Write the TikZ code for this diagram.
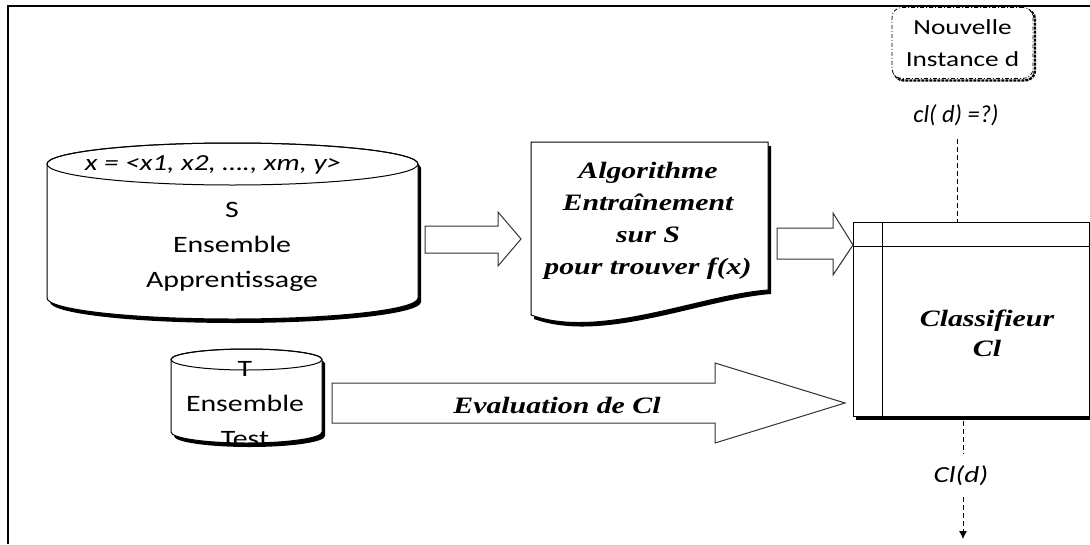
\documentclass[tikz,border=0pt]{standalone}
\usepackage{fontspec}
\setmainfont{Liberation Serif}[FakeStretch=1.27]
\newfontfamily\calfont{Carlito}[FakeStretch=1.27]
\newfontfamily\calplain{Carlito}
\usetikzlibrary{arrows.meta}

\tikzset{
  outline/.style={draw=black, line width=1pt, fill=white},
  blockarrow/.style={draw=black!80, line width=1pt, fill=white},
  sans/.style={font=\calfont\fontsize{23.5}{35}\selectfont, align=center, inner sep=0pt},
  sansit/.style={font=\calfont\itshape\fontsize{23}{28}\selectfont, inner sep=0pt},
  serifbi/.style={font=\bfseries\itshape\fontsize{23.5}{32}\selectfont, align=center, inner sep=0pt},
  link/.style={draw=black, line width=0.8pt, dash pattern=on 5pt off 3pt},
}

\begin{document}
\begin{tikzpicture}[x=1pt, y=-1pt]
\useasboundingbox (0,0) rectangle (1090,544);

% outer frame
\draw[line width=2pt] (8,544) -- (8,6) -- (1090,6);

% training set S (cylinder with drop shadow)
\begin{scope}[shift={(3,4)}]
  \fill (47,164) -- (47,298) arc (180:0:185.5 and 21) -- (418,164) arc (0:-180:185.5 and 21) -- cycle;
\end{scope}
\draw[outline] (47,164) -- (47,298) arc (180:0:185.5 and 21) -- (418,164) arc (0:-180:185.5 and 21) -- cycle;
\draw[line width=1pt] (232.5,164) ellipse (185.5 and 21);
\node[sansit] (xvec) at (213,165) {x = <x1, x2, …., xm, y>};
\node[sans] (setS) at (232,247) {S\\Ensemble\\Apprentissage};

% test set T (small cylinder)
\begin{scope}[shift={(3,4)}]
  \fill (171,359.5) -- (171,432) arc (180:0:75.5 and 11) -- (322,359.5) arc (0:-180:75.5 and 10.5) -- cycle;
\end{scope}
\draw[outline] (171,359.5) -- (171,432) arc (180:0:75.5 and 11) -- (322,359.5) arc (0:-180:75.5 and 10.5) -- cycle;
\draw[line width=1pt] (246.5,359.5) ellipse (75.5 and 10.5);
\node[sans] (setT) at (245,404) {T\\Ensemble\\Test};

% training algorithm (document shape)
\begin{scope}[shift={(3,4)}]
  \fill (531,142) -- (768,142) -- (768,290) .. controls (700,295) and (600,340) .. (531,315) -- cycle;
\end{scope}
\draw[outline] (531,142) -- (768,142) -- (768,290) .. controls (700,295) and (600,340) .. (531,315) -- cycle;
\node[serifbi] (algo) at (648,221) {Algorithme\\Entraînement\\sur S\\pour trouver f(x)};

% classifier (window shape)
\fill (856,225) rectangle (1093,420);
\node[outline, rectangle, minimum width=236pt, minimum height=194pt, inner sep=0pt] (cls) at (971,319) {};
\draw[line width=1pt] (882,222) -- (882,416);
\draw[line width=1pt] (853,246) -- (1089,246);
\node[serifbi, font=\bfseries\itshape\fontsize{23.5}{30}\selectfont] (clstxt) at (987,333) {Classifieur\\Cl};

% new instance (rounded box, dash-dot border)
\draw[line width=2.4pt, dash pattern=on 3pt off 1pt, rounded corners=10pt] (894,9.5) rectangle (1035,80.5);
\node[draw=black, fill=white, line width=0.8pt, dash pattern=on 4pt off 2pt on 1pt off 2pt,
      rounded corners=10pt, minimum width=141pt, minimum height=71pt, inner sep=0pt,
      font=\calfont\fontsize{21.5}{32}\selectfont, align=center] (inst) at (962.5,43) {Nouvelle\\Instance d};

% block arrows
\draw[blockarrow] (425,226) -- (498,226) -- (498,212) -- (521,239) -- (498,266) -- (498,253) -- (425,253) -- cycle;
\draw[blockarrow] (777,228) -- (833,228) -- (833,213) -- (853,245) -- (833,275) -- (833,259) -- (777,259) -- cycle;
\draw[blockarrow] (332,383) -- (715,383) -- (715,363) -- (845,403) -- (715,443) -- (715,423) -- (332,423) -- cycle;
\node[serifbi] (evaltxt) at (557,405) {Evaluation de Cl};

% query and answer
\node[inner sep=0pt, font=\calplain\itshape\fontsize{24.5}{28}\selectfont] (query) at (956,115) {cl( d) =?)};
\draw[link, shorten <=13pt] ([xshift=1pt]query.south) -- ([xshift=1pt]query.south |- cls.north);
\node[sansit] (answer) at (961,476) {Cl(d)};
\coordinate (sink) at (963,539);
\draw[link, shorten <=4pt, shorten >=12pt] ([xshift=2pt]answer.north |- cls.south) -- ([xshift=2pt]answer.north);
\draw[link, shorten <=11pt, -{Latex[length=8pt,width=8pt]}] ([xshift=2pt]answer.south) -- (sink);
\end{tikzpicture}
\end{document}
